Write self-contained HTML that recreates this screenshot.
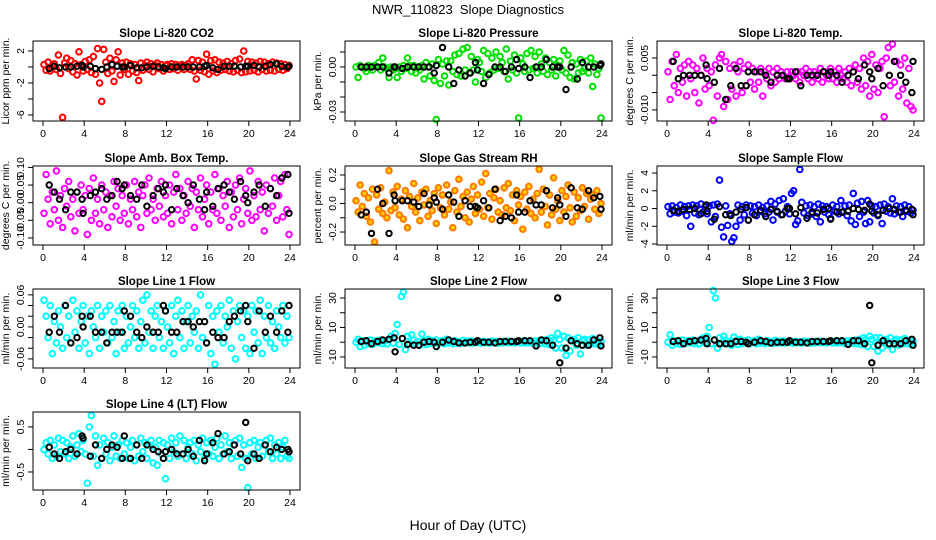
<!DOCTYPE html>
<html><head><meta charset="utf-8"><title>NWR_110823 Slope Diagnostics</title>
<style>
html,body{margin:0;padding:0;background:#fff;}
svg{display:block;font-family:"Liberation Sans",sans-serif;}
</style></head>
<body>
<svg id="chart" width="936" height="540" viewBox="0 0 936 540" xmlns="http://www.w3.org/2000/svg">
<rect x="0" y="0" width="936" height="540" fill="#fff"/>
<text x="468" y="14" text-anchor="middle" font-size="13" xml:space="preserve">NWR_110823  Slope Diagnostics</text>
<text x="468" y="530" text-anchor="middle" font-size="14">Hour of Day (UTC)</text>
</svg>
<script>
const hoursColored = [0.1,0.3,0.5,0.7,0.9,1.1,1.3,1.5,1.7,1.9,2.1,2.3,2.5,2.7,2.9,3.1,3.3,3.5,3.7,3.9,4.1,4.3,4.5,4.7,4.9,5.1,5.3,5.5,5.7,5.9,6.1,6.3,6.5,6.7,6.9,7.1,7.3,7.5,7.7,7.9,8.1,8.3,8.5,8.7,8.9,9.1,9.3,9.5,9.7,9.9,10.1,10.3,10.5,10.7,10.9,11.1,11.3,11.5,11.7,11.9,12.1,12.3,12.5,12.7,12.9,13.1,13.3,13.5,13.7,13.9,14.1,14.3,14.5,14.7,14.9,15.1,15.3,15.5,15.7,15.9,16.1,16.3,16.5,16.7,16.9,17.1,17.3,17.5,17.7,17.9,18.1,18.3,18.5,18.7,18.9,19.1,19.3,19.5,19.7,19.9,20.1,20.3,20.5,20.7,20.9,21.1,21.3,21.5,21.7,21.9,22.1,22.3,22.5,22.7,22.9,23.1,23.3,23.5,23.7,23.9];
const hoursBlack = [0.6,1.1,1.6,2.2,2.7,3.3,3.8,3.9,4.6,5.1,5.7,6.2,6.7,7.2,7.7,7.9,8.5,9.1,9.6,10.1,10.7,11.2,11.7,11.9,12.5,13.0,13.6,14.1,14.6,15.2,15.7,15.9,16.5,17.0,17.6,18.1,18.6,19.2,19.7,19.9,20.5,21.0,21.6,22.1,22.7,23.2,23.8,23.9];
const xTicks = [0,4,8,12,16,20,24];

const co2Colored = [0.3,-0.4,0.6,-0.5,0.2,0.4,-0.3,1.5,-0.8,-6.3,0.5,1.1,-0.2,0.8,-0.6,0.4,-1.0,1.9,0.3,-0.5,0.7,-0.3,0.9,-0.7,1.3,-0.9,2.3,-2.0,-4.3,2.2,0.6,-0.8,1.1,-0.5,-1.8,0.9,1.9,-1.0,0.5,-0.3,0.6,-0.9,0.4,-0.5,0.3,-0.7,-1.7,0.5,-0.4,0.2,0.6,-0.3,0.4,-0.6,0.2,0.5,-0.2,0.3,-0.5,0.2,0.3,-0.3,0.4,-0.2,0.3,-0.4,0.2,0.3,-0.3,0.2,0.4,-0.3,0.9,-0.5,-1.5,0.8,-0.4,0.6,-0.6,1.6,-0.9,0.8,-0.5,0.9,-0.7,0.6,-0.4,0.5,-0.3,0.7,-0.5,0.4,-0.6,0.8,-0.4,1.0,-0.7,2.0,-0.6,0.7,-0.5,0.6,-0.4,0.5,-0.6,0.7,-0.3,0.6,-0.5,0.4,-0.4,0.6,-0.5,0.5,-0.3,0.4,-0.4,0.3,-0.2,0.2];
const co2Black = [-0.2,0.1,-0.1,0.0,0.0,0.1,0.2,0.0,0.1,-0.2,-0.3,0.0,0.3,0.1,0.0,0.0,0.2,-0.1,-0.1,0.0,0.1,0.0,-0.1,-0.2,0.0,0.0,0.0,0.0,0.0,0.0,0.1,0.2,-0.1,-0.3,0.1,0.1,0.1,0.0,0.1,0.1,0.2,0.0,0.1,0.3,0.4,0.1,0.0,0.1];
const co2Ticks = [2,0,-2,-4,-6];
const co2Labels = ["2","","-2","","-6"];

const presColored = [0.000,-0.007,0.001,0.000,-0.001,-0.003,0.001,0.000,-0.002,0.001,0.000,0.003,-0.002,0.006,0.000,-0.001,-0.007,0.000,-0.002,-0.001,-0.007,0.000,-0.003,0.001,-0.001,0.006,0.001,-0.003,0.001,-0.004,0.000,-0.002,0.001,-0.008,0.003,0.000,-0.006,0.002,-0.009,-0.035,0.005,-0.011,0.002,-0.006,0.004,-0.012,0.004,-0.003,0.008,-0.005,0.009,-0.006,0.012,-0.002,0.013,-0.004,0.007,-0.002,-0.010,0.005,0.003,-0.003,0.011,-0.007,0.009,-0.004,0.006,-0.002,0.010,-0.001,0.007,0.003,-0.003,0.012,-0.008,0.004,-0.002,0.008,-0.004,-0.034,0.006,0.002,-0.003,0.009,-0.002,0.011,-0.001,0.007,-0.004,0.010,0.002,-0.003,0.006,-0.005,0.003,-0.002,0.005,-0.006,0.001,0.004,-0.002,0.011,-0.004,0.008,-0.007,0.003,-0.008,0.002,-0.004,0.005,-0.003,-0.001,0.004,-0.004,0.006,-0.013,0.002,-0.005,-0.001,-0.034];
const presBlack = [0.000,0.000,0.000,0.000,0.000,-0.004,0.000,0.000,-0.001,0.000,0.000,0.000,0.000,0.000,-0.004,0.001,0.013,0.000,-0.011,-0.002,-0.006,-0.004,0.003,-0.002,-0.011,-0.005,0.000,0.000,-0.003,0.000,0.005,-0.001,0.000,-0.007,0.000,0.000,0.005,0.000,0.000,0.000,-0.015,0.000,-0.008,0.003,0.000,0.000,0.001,0.002];
const presTicks = [0.01,0,-0.01,-0.02,-0.03];
const presLabels = ["","0.00","","","-0.03"];

const tempColored = [0.001,-0.007,0.004,-0.003,0.006,-0.005,0.002,-0.002,0.003,-0.006,0.004,-0.001,0.003,-0.005,0.002,-0.008,0.000,0.005,-0.004,0.002,-0.003,0.001,-0.013,0.003,-0.006,0.005,0.006,-0.009,0.004,-0.007,0.002,-0.004,0.003,-0.006,0.001,0.004,-0.005,0.002,-0.003,0.003,-0.002,0.002,-0.004,0.001,-0.002,0.002,-0.006,0.001,-0.001,0.002,-0.003,0.001,-0.002,0.002,-0.001,0.001,0.000,-0.001,0.001,-0.001,0.001,0.000,-0.001,0.001,-0.002,0.001,0.000,0.002,-0.001,0.001,-0.002,0.001,0.000,-0.001,0.002,-0.002,0.001,0.000,-0.001,0.002,-0.001,0.001,-0.002,0.002,0.000,-0.001,0.001,-0.002,0.002,-0.003,0.001,0.003,-0.002,0.002,-0.004,0.005,-0.003,0.004,-0.006,0.006,-0.004,0.003,-0.005,0.002,0.004,-0.012,0.005,0.008,-0.003,0.009,-0.002,0.004,-0.006,0.003,-0.004,0.005,-0.008,0.002,-0.009,-0.010];
const tempBlack = [0.004,-0.001,0.000,0.000,0.000,0.000,0.003,-0.001,-0.002,0.002,-0.007,-0.003,0.002,-0.003,-0.003,0.001,0.001,0.001,0.000,-0.002,0.000,0.000,-0.001,-0.001,0.001,-0.003,0.000,0.000,0.000,0.001,0.000,0.001,0.000,-0.002,0.000,0.001,-0.001,0.003,0.001,-0.001,0.002,-0.003,0.000,0.004,0.000,-0.002,-0.005,0.004];
const tempTicks = [0.005,0,-0.005,-0.010];
const tempLabels = ["0.005","","","-0.010"];

const ambColored = [-0.03,0.08,0.01,-0.06,0.03,-0.02,0.09,-0.05,0.02,-0.07,0.04,-0.01,0.06,-0.04,0.01,-0.08,0.03,-0.03,0.05,-0.02,0.02,-0.09,0.04,-0.05,0.07,-0.03,0.01,-0.06,0.05,-0.02,0.03,-0.07,0.02,-0.04,0.06,-0.01,0.04,-0.05,0.02,-0.03,0.05,-0.06,0.01,-0.02,0.06,-0.04,0.03,-0.07,0.02,0.05,-0.03,0.07,-0.02,0.01,-0.05,0.04,-0.01,0.06,-0.04,0.02,-0.03,0.05,-0.06,0.03,0.08,-0.02,0.04,-0.05,0.02,-0.03,0.06,-0.01,0.04,-0.07,0.03,-0.02,0.07,-0.04,0.01,0.05,-0.06,0.03,-0.02,0.08,-0.03,0.04,-0.05,0.02,-0.01,0.06,-0.07,0.03,-0.04,0.05,-0.02,0.07,-0.06,0.01,0.04,-0.03,0.09,-0.05,0.02,-0.04,0.06,-0.02,0.03,-0.08,0.05,-0.03,0.04,-0.01,0.07,-0.05,0.02,0.06,-0.04,0.08,-0.02,-0.09];
const ambBlack = [0.05,0.03,0.01,-0.02,0.03,0.03,0.01,-0.03,0.02,0.03,0.04,0.01,0.02,0.06,0.04,0.05,0.02,0.01,0.05,-0.01,0.02,0.04,0.03,0.05,-0.02,0.04,0.02,0.00,0.05,0.01,-0.02,0.03,-0.01,0.04,0.05,0.03,0.01,0.06,0.02,0.00,0.03,0.05,-0.01,0.04,0.02,0.07,0.08,-0.03];
const ambTicks = [0.10,0.05,0,-0.05,-0.10];
const ambLabels = ["0.10","0.05","0.00","-0.05","-0.10"];

const rhColored = [0.02,-0.06,0.13,-0.02,0.07,-0.09,0.04,-0.13,0.10,-0.27,0.06,-0.04,0.11,-0.07,0.01,-0.10,0.23,-0.05,0.08,-0.03,0.12,-0.08,0.03,-0.11,0.09,-0.17,0.05,-0.02,0.14,-0.06,0.04,-0.12,0.08,-0.01,0.10,-0.09,0.02,-0.05,0.07,-0.14,0.11,-0.03,0.06,-0.08,0.13,-0.04,0.01,-0.17,0.09,-0.06,0.17,-0.02,0.05,-0.10,0.08,-0.13,0.03,0.12,-0.07,0.06,-0.04,0.15,-0.09,0.21,-0.03,0.07,-0.11,0.04,0.10,-0.06,0.02,-0.08,0.11,-0.03,0.14,-0.05,0.06,-0.12,0.09,-0.01,0.05,-0.18,0.08,-0.04,0.12,-0.07,0.03,-0.10,0.07,0.24,-0.06,0.10,-0.02,-0.15,0.06,-0.08,0.18,-0.04,0.02,-0.12,0.09,-0.06,0.05,0.13,-0.03,-0.13,0.08,-0.09,0.04,-0.05,0.11,-0.02,0.07,-0.11,0.03,0.06,-0.04,0.09,-0.07,0.00];
const rhBlack = [-0.08,-0.06,-0.21,0.10,0.00,-0.21,0.06,0.02,0.02,0.02,0.01,-0.02,0.07,-0.01,0.04,0.01,-0.04,0.06,0.01,-0.09,0.02,-0.02,-0.02,-0.03,0.02,-0.03,0.10,-0.12,-0.09,-0.10,0.06,-0.06,-0.06,0.02,-0.01,-0.01,0.09,-0.03,0.04,-0.01,-0.09,0.11,-0.03,-0.04,0.09,0.04,0.05,-0.04];
const rhTicks = [0.2,0.1,0,-0.1,-0.2];
const rhLabels = ["0.2","","0.0","","-0.2"];

const sfColored = [0.2,-0.6,0.3,-0.4,0.1,-0.5,0.4,-0.3,0.2,-0.8,0.3,-2.0,0.4,-0.5,0.3,-0.7,0.5,-0.4,0.2,-0.6,0.3,-1.5,0.4,-0.9,0.5,3.2,-2.1,-3.2,0.3,-1.9,-0.6,-3.7,-3.3,-2.0,0.4,-1.3,0.2,-0.7,0.4,-1.3,0.3,-0.5,0.2,-0.8,0.4,-0.3,0.1,-0.6,0.3,-0.4,0.8,-1.3,0.5,-0.4,0.9,-0.7,1.1,-0.3,0.2,-0.6,1.7,2.0,-1.8,-1.4,4.4,0.7,-0.5,0.3,-0.8,0.4,-0.6,0.2,-0.9,0.5,-1.5,0.3,-0.4,0.2,-0.7,-1.1,0.4,-0.3,0.2,-0.6,0.9,-0.4,0.3,-0.8,0.4,-1.4,1.7,-1.8,0.6,-0.9,0.8,-0.4,-1.7,0.9,-1.5,0.3,-0.5,0.2,-0.8,0.4,-1.7,0.5,-0.3,0.2,-0.5,1.1,-0.6,0.3,-0.4,0.2,-0.9,0.4,-0.3,0.2,-0.5,-0.2];
const sfBlack = [-0.2,-0.3,-0.1,-0.1,0.0,-0.6,0.4,-0.3,-1.2,0.2,-0.7,-0.8,-0.4,-0.1,0.1,-1.3,-0.7,-0.2,-0.9,-0.1,-0.3,-0.7,0.0,0.0,-0.6,0.1,-1.1,-0.4,-0.5,-0.1,0.0,-1.2,-0.4,-0.4,-0.3,0.0,-0.1,-0.2,0.5,-0.3,-0.7,-0.2,0.0,-0.1,-0.4,-0.2,-0.1,-0.7];
const sfTicks = [4,2,0,-2,-4];
const sfLabels = ["4","2","0","-2","-4"];

const l1Colored = [0.05,0.02,-0.02,0.04,-0.05,0.01,-0.03,0.03,0.00,-0.04,0.04,-0.02,0.02,-0.03,0.05,-0.01,0.03,-0.04,0.01,0.04,-0.03,0.02,-0.05,0.03,0.00,-0.02,0.04,-0.04,0.02,-0.01,0.03,-0.03,0.04,-0.02,0.01,-0.05,0.03,-0.01,0.04,-0.04,0.02,-0.03,0.00,0.04,-0.02,0.03,-0.04,0.01,0.05,-0.03,0.06,-0.01,0.03,-0.04,0.02,0.04,-0.02,0.01,-0.04,0.03,0.00,-0.03,0.04,-0.05,0.02,0.05,-0.02,0.03,-0.04,0.01,0.04,-0.03,0.02,-0.01,0.03,-0.04,0.06,-0.02,0.01,-0.03,0.04,-0.05,0.02,-0.07,0.03,-0.01,0.04,-0.03,0.02,0.00,0.05,-0.04,0.03,-0.06,0.01,0.04,-0.02,0.03,-0.04,0.02,-0.05,0.04,-0.01,0.03,-0.03,0.05,-0.05,0.02,-0.02,0.04,-0.03,0.01,-0.04,0.03,0.00,-0.02,0.04,-0.03,0.02,-0.02];
const l1Black = [-0.01,0.02,-0.01,0.04,-0.03,-0.02,0.02,0.00,0.02,-0.01,-0.01,-0.03,-0.01,-0.01,-0.01,0.03,0.02,-0.01,-0.02,0.00,-0.01,-0.01,0.04,0.03,-0.01,-0.01,0.01,0.01,0.00,0.01,0.01,-0.03,-0.01,-0.02,-0.02,0.01,0.02,0.03,0.04,0.01,-0.04,0.03,-0.01,0.02,-0.01,0.03,-0.01,0.04];
const l1Ticks = [0.06,0.04,0.02,0,-0.02,-0.04,-0.06];
const l1Labels = ["0.06","","","0.00","","","-0.06"];

const l2Colored = [0.0,2.0,-3.0,1.0,-2.0,0.5,-1.0,1.5,-1.5,0.5,1.0,-0.5,1.5,-1.0,0.8,-1.2,1.8,4.0,-0.5,6.0,12.0,-1.5,31.0,34.0,-5.0,4.0,-1.0,5.0,1.5,-1.0,0.5,-2.0,5.5,1.0,-1.5,2.0,-1.0,1.0,-0.5,1.5,-1.0,0.5,1.0,-1.0,2.0,-0.5,0.5,-1.0,1.0,-0.5,0.5,-0.8,1.2,-0.5,0.6,-0.4,0.8,-0.6,0.5,-0.3,0.4,-0.5,0.6,-0.4,0.3,-0.6,0.8,-0.3,0.5,-0.7,0.4,-0.5,0.6,-0.3,0.7,-0.4,0.5,-0.6,0.3,0.8,-0.5,0.6,-0.4,0.7,-0.3,0.5,-0.8,0.9,-0.5,1.0,-0.8,1.5,-1.0,2.0,-1.5,3.0,1.5,-4.0,6.0,2.0,-4.0,4.0,-9.0,3.0,-6.0,1.0,2.0,-2.0,3.0,-8.0,1.0,2.0,-2.0,1.5,-1.0,2.5,-1.0,1.0,-1.5,0.5];
const l2Black = [0.5,1.0,-1.0,0.5,1.5,2.0,3.0,-6.5,2.5,-1.5,-2.0,-2.0,0.0,0.5,0.0,-3.0,0.0,1.5,0.5,-0.5,-0.5,0.0,0.0,1.0,0.0,0.0,-0.5,0.5,0.5,0.5,0.5,1.0,1.0,1.0,-2.5,1.5,1.0,-2.0,30.0,-14.0,-4.0,1.0,-1.0,-2.0,-2.0,1.5,3.0,-2.5];
const l2Ticks = [30,20,10,0,-10];
const l2Labels = ["30","","10","","-10"];

const l3Colored = [0.0,5.0,-2.0,1.0,-1.0,0.5,-1.5,1.5,-1.0,0.5,1.0,-0.5,1.5,-1.0,0.8,-1.2,1.8,3.0,-0.5,4.0,10.0,-1.0,35.0,30.0,-4.0,3.0,-1.0,4.0,1.5,-1.0,0.5,-2.0,3.5,1.0,-1.5,2.0,-1.0,1.0,-0.5,1.5,-1.0,0.5,1.0,-1.0,2.0,-0.5,0.5,-1.0,1.0,-0.5,0.5,-0.8,1.2,-0.5,0.6,-0.4,0.8,-0.6,0.5,-0.3,0.4,-0.5,0.6,-0.4,0.3,-0.6,0.8,-0.3,0.5,-0.7,0.4,-0.5,0.6,-0.3,0.7,-0.4,0.5,-0.6,0.3,0.8,-0.5,0.6,-0.4,0.7,-0.3,0.5,-0.8,0.9,-0.5,1.0,-0.8,1.5,-1.0,2.0,-1.5,3.0,1.5,-3.0,4.0,2.0,-3.0,3.0,-6.0,3.0,-4.0,1.0,2.0,-2.0,3.0,-5.0,1.0,2.0,-2.0,1.5,-1.0,2.5,-1.0,1.0,-1.5,0.5];
const l3Black = [0.5,1.0,-1.0,0.5,1.0,1.5,2.5,-1.0,1.5,-1.0,-1.0,-1.0,0.5,0.5,0.0,-1.0,0.0,1.0,0.5,-0.5,0.0,0.0,0.0,1.0,0.0,0.0,-0.5,0.5,0.5,0.5,0.5,1.0,1.0,1.0,-1.5,1.0,1.0,-1.0,25.0,-14.0,-2.0,1.0,-1.0,-1.0,-1.0,1.0,2.0,-2.0];
const l3Ticks = [30,20,10,0,-10];
const l3Labels = ["30","","10","","-10"];

const l4Colored = [0.0,0.15,-0.1,0.2,-0.2,0.1,-0.15,0.25,-0.05,0.2,-0.1,0.15,-0.2,0.05,0.3,-0.15,0.1,0.35,-0.05,0.2,-0.1,-0.75,0.5,0.75,-0.15,0.3,-0.35,0.1,-0.2,0.25,-0.1,0.15,-0.25,0.05,0.3,-0.15,0.1,-0.2,0.2,-0.1,0.15,-0.2,0.05,0.2,-0.25,0.1,-0.15,0.25,-0.05,0.15,-0.2,0.1,0.2,-0.3,0.05,-0.35,0.2,-0.1,0.15,-0.65,0.1,-0.2,0.25,-0.05,0.15,-0.15,0.3,-0.1,0.2,-0.2,0.05,0.15,-0.1,0.2,-0.25,0.1,-0.05,0.25,-0.2,0.15,-0.1,0.2,-0.15,0.05,0.25,-0.2,0.1,-0.1,0.3,-0.05,0.15,-0.2,0.1,0.2,-0.15,0.25,-0.4,0.1,-0.2,-0.85,0.15,-0.1,0.2,-0.2,0.05,0.15,-0.15,0.1,0.2,-0.05,0.25,-0.2,0.1,-0.1,0.15,-0.2,0.05,0.2,-0.15,-0.2];
const l4Black = [0.05,-0.1,-0.2,-0.05,0.0,-0.1,0.3,0.25,-0.15,0.1,-0.2,0.0,0.1,0.05,-0.2,0.3,-0.2,0.1,-0.2,0.1,0.0,-0.05,-0.2,-0.05,0.0,-0.1,-0.1,0.0,-0.15,0.2,-0.25,-0.1,0.15,0.35,-0.1,-0.05,0.1,-0.1,0.6,-0.25,-0.1,-0.2,0.1,-0.05,0.05,0.0,0.0,-0.05];
const l4Ticks = [0.5,0,-0.5];
const l4Labels = ["0.5","","-0.5"];

const NS = "http://www.w3.org/2000/svg";
const svg = document.getElementById("chart");
const colLefts = [33,345,657];
const rowTops = [41,166,289,412];
const rowBottoms = [121,245,368,490];
const panels = [
 {name:"co2",title:"Slope Li-820 CO2",ylab:"Licor ppm per min.",col:0,row:0,ymin:-6.75,ymax:3.25,c:co2Colored,k:co2Black,t:co2Ticks,l:co2Labels,color:"#ff0000",fill:"none"},
 {name:"pressure",title:"Slope Li-820 Pressure",ylab:"kPa per min.",col:1,row:0,ymin:-0.036,ymax:0.0173,c:presColored,k:presBlack,t:presTicks,l:presLabels,color:"#00e000",fill:"none"},
 {name:"temp",title:"Slope Li-820 Temp.",ylab:"degrees C per min.",col:2,row:0,ymin:-0.0132,ymax:0.0099,c:tempColored,k:tempBlack,t:tempTicks,l:tempLabels,color:"#ff00ff",fill:"none"},
 {name:"amb-box-temp",title:"Slope Amb. Box Temp.",ylab:"degrees C per min.",col:0,row:1,ymin:-0.12,ymax:0.104,c:ambColored,k:ambBlack,t:ambTicks,l:ambLabels,color:"#ff00ff",fill:"none"},
 {name:"gas-stream-rh",title:"Slope Gas Stream RH",ylab:"percent per min.",col:1,row:1,ymin:-0.291,ymax:0.263,c:rhColored,k:rhBlack,t:rhTicks,l:rhLabels,color:"#ff7a00",fill:"#ffd000"},
 {name:"sample-flow",title:"Slope Sample Flow",ylab:"ml/min per min.",col:2,row:1,ymin:-4.11,ymax:4.79,c:sfColored,k:sfBlack,t:sfTicks,l:sfLabels,color:"#0000ff",fill:"none"},
 {name:"line1-flow",title:"Slope Line 1 Flow",ylab:"ml/min per min.",col:0,row:2,ymin:-0.077,ymax:0.071,c:l1Colored,k:l1Black,t:l1Ticks,l:l1Labels,color:"#00ffff",fill:"none"},
 {name:"line2-flow",title:"Slope Line 2 Flow",ylab:"ml/min per min.",col:1,row:2,ymin:-17.5,ymax:36.1,c:l2Colored,k:l2Black,t:l2Ticks,l:l2Labels,color:"#00ffff",fill:"none"},
 {name:"line3-flow",title:"Slope Line 3 Flow",ylab:"ml/min per min.",col:2,row:2,ymin:-17.5,ymax:36.1,c:l3Colored,k:l3Black,t:l3Ticks,l:l3Labels,color:"#00ffff",fill:"none"},
 {name:"line4-flow",title:"Slope Line 4 (LT) Flow",ylab:"ml/min per min.",col:0,row:3,ymin:-0.9,ymax:0.83,c:l4Colored,k:l4Black,t:l4Ticks,l:l4Labels,color:"#00ffff",fill:"none"}
];

function mk(tag, attrs, parent){
  const e = document.createElementNS(NS, tag);
  for (const a in attrs) e.setAttribute(a, attrs[a]);
  parent.appendChild(e);
  return e;
}

panels.forEach(p => {
  const left = colLefts[p.col], right = left + 267;
  const top = rowTops[p.row], bottom = rowBottoms[p.row];
  const xs = h => left + 10 + h * (247/24);
  const ys = v => bottom - (v - p.ymin) / (p.ymax - p.ymin) * (bottom - top);
  const g = mk("g", {}, svg);
  
  

  const title = mk("text", {x:(left+right)/2, y:top-4, "text-anchor":"middle", "font-size":"11.5", "font-weight":"bold"}, g);
  title.textContent = p.title;
  
  

  const yl = mk("text", {x:0, y:0, "text-anchor":"middle", "font-size":"10.5", transform:"translate("+(left-24)+","+((top+bottom)/2)+") rotate(-90)"}, g);
  yl.textContent = p.ylab;
  
  

  const pts = mk("g", {fill:p.fill, stroke:p.color, "stroke-width":"2"}, g);
  
  
  const n = Math.min(p.c.length, hoursColored.length);
  for (let i=0;i<n;i++){
    const c = mk("circle", {cx:xs(hoursColored[i]).toFixed(1), cy:ys(p.c[i]).toFixed(1), r:"2.8"}, pts);
    
    
  }
  const kg = mk("g", {fill:"none", stroke:"#000", "stroke-width":"2"}, g);
  
  
  const m = Math.min(p.k.length, hoursBlack.length);
  for (let i=0;i<m;i++){
    const c = mk("circle", {cx:xs(hoursBlack[i]).toFixed(1), cy:ys(p.k[i]).toFixed(1), r:"2.7"}, kg);
    
    
  }

  const box = mk("rect", {x:left, y:top, width:right-left, height:bottom-top, fill:"none", stroke:"#000", "stroke-width":"1"}, g);
  
  

  const xa = mk("g", {stroke:"#000", "stroke-width":"1"}, g);
  
  
  xTicks.forEach(t => {
    const x = xs(t);
    mk("line", {x1:x, x2:x, y1:bottom, y2:bottom+5}, xa);
    const tx = mk("text", {x:x, y:bottom+16, "text-anchor":"middle", "font-size":"10.5", stroke:"none", fill:"#000"}, xa);
    tx.textContent = String(t);
    
    
  });

  const ya = mk("g", {stroke:"#000", "stroke-width":"1"}, g);
  
  
  p.t.forEach((t, i) => {
    const y = ys(t);
    mk("line", {x1:left-5, x2:left, y1:y, y2:y}, ya);
    if (p.l[i]) {
      const tx = mk("text", {x:0, y:0, "text-anchor":"middle", "font-size":"10.5", stroke:"none", fill:"#000", transform:"translate("+(left-9)+","+y.toFixed(1)+") rotate(-90)"}, ya);
      tx.textContent = p.l[i];
      
      
    }
  });
});
</script>
</body></html>
